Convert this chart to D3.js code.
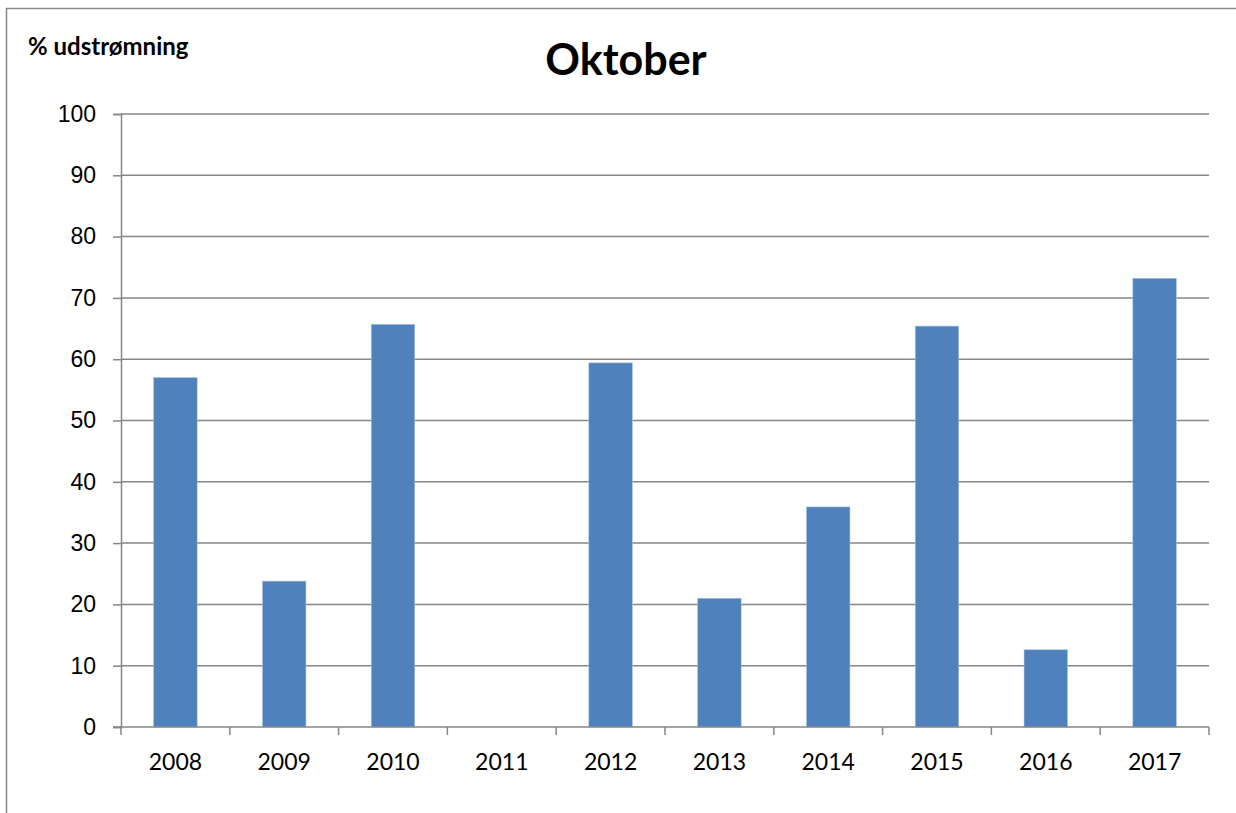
<!DOCTYPE html>
<html>
<head>
<meta charset="utf-8">
<script src="https://cdn.jsdelivr.net/npm/d3@7"></script>
<style>
  body { margin: 0; background: #fff; }
  svg { display: block; font-family: Lato, "Open Sans", sans-serif; }
</style>
</head>
<body>
<script>
// data
var years = ["2008", "2009", "2010", "2011", "2012", "2013", "2014", "2015", "2016", "2017"];
var outflow = [57.0, 23.8, 65.7, 0, 59.4, 21.0, 35.9, 65.4, 12.6, 73.2];
var yTicks = [0, 10, 20, 30, 40, 50, 60, 70, 80, 90, 100];

var width = 1236,
    height = 813;

var margin = {left: 121, right: 27, top: 114, bottom: 86};

var svg = d3.select("body").append("svg")
    .attr("width", width)
    .attr("height", height);

// outer chart frame
svg.append("rect")
    .attr("x", 6.5).attr("y", 8.5)
    .attr("width", width).attr("height", height)
    .attr("fill", "none")
    .attr("stroke", "#888")
    .attr("stroke-width", 1.5);

var x = d3.scaleBand()
    .domain(years)
    .range([margin.left, width - margin.right])
    .paddingInner(0.6)
    .paddingOuter(0.3);

var xOuter = d3.scaleBand()
    .domain(years)
    .range([margin.left, width - margin.right]);

var y = d3.scaleLinear()
    .domain([0, 100])
    .range([height - margin.bottom, margin.top]);

// gridlines + y ticks
svg.append("g")
    .attr("transform", "translate(" + margin.left + ",0)")
    .call(d3.axisLeft(y)
      .tickValues(yTicks)
      .tickSize(8)
      .tickPadding(17)
      .tickFormat(d3.format("d")))
    .call(function(g) {
      g.select(".domain").attr("stroke", "#868686").attr("stroke-width", 1.5);
      g.selectAll(".tick line").attr("stroke", "#868686").attr("stroke-width", 1.5);
      g.selectAll(".tick text").attr("font-size", 23).attr("fill", "#000");
    });

svg.append("g")
    .selectAll("line")
    .data(yTicks.slice(1))
    .enter().append("line")
      .attr("x1", margin.left)
      .attr("x2", width - margin.right)
      .attr("y1", function(d) { return y(d); })
      .attr("y2", function(d) { return y(d); })
      .attr("stroke", "#868686")
      .attr("stroke-width", 1.5);

// bars
svg.append("g")
    .selectAll("rect")
    .data(outflow)
    .enter().append("rect")
      .attr("x", function(d, i) { return x(years[i]); })
      .attr("y", function(d) { return y(d); })
      .attr("width", x.bandwidth())
      .attr("height", function(d) { return y(0) - y(d); })
      .attr("fill", "#4F81BD")
      .attr("stroke", "#a9c4e6")
      .attr("stroke-width", d => d > 0 ? 0.6 : 0);

// x axis with ticks between categories
var xAxis = svg.append("g")
    .attr("transform", "translate(0," + y(0) + ")");

xAxis.append("line")
    .attr("x1", margin.left - 8)
    .attr("x2", width - margin.right)
    .attr("stroke", "#868686")
    .attr("stroke-width", 1.5);

var edges = years.map(function(d) { return xOuter(d); }).concat([width - margin.right]);
xAxis.selectAll(".xtick")
    .data(edges)
    .enter().append("line")
      .attr("class", "xtick")
      .attr("x1", function(d) { return d; })
      .attr("x2", function(d) { return d; })
      .attr("y1", 0)
      .attr("y2", 8)
      .attr("stroke", "#868686")
      .attr("stroke-width", 1.5);

xAxis.selectAll(".xlabel")
    .data(years)
    .enter().append("text")
      .attr("class", "xlabel")
      .attr("x", function(d) { return xOuter(d) + xOuter.bandwidth() / 2; })
      .attr("y", 43)
      .attr("text-anchor", "middle")
      .attr("font-size", 23)
      .text(function(d) { return d; });

// titles
svg.append("text")
    .attr("x", 626)
    .attr("y", 75)
    .attr("text-anchor", "middle")
    .attr("font-size", 43)
    .attr("font-weight", "bold")
    .text("Oktober");

svg.append("text")
    .attr("x", 28)
    .attr("y", 55)
    .attr("font-size", 24)
    .attr("font-weight", "bold")
    .text("% udstrømning");
</script>
</body>
</html>
